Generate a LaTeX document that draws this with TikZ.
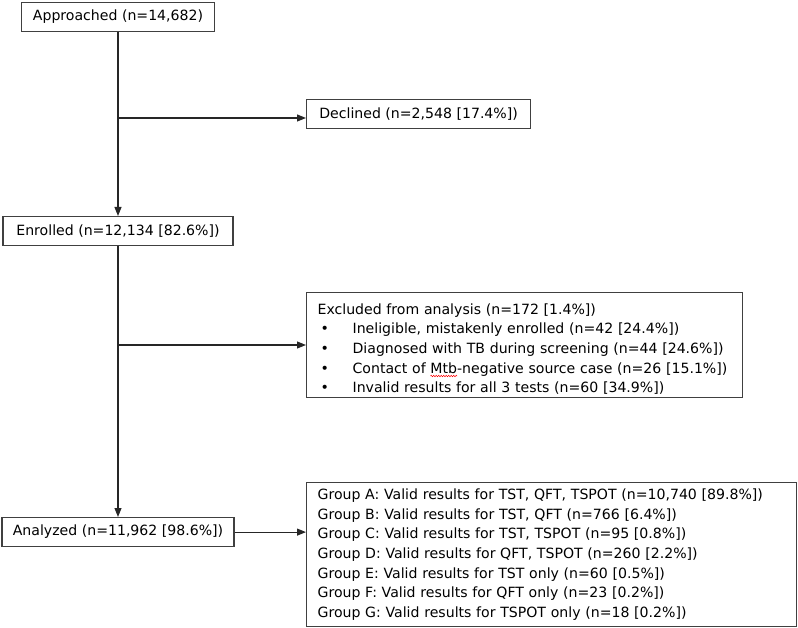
\documentclass[tikz,border=0pt]{standalone}
\usepackage{fontspec}
\setmainfont{DejaVu Sans}
\usetikzlibrary{arrows.meta,decorations.pathmorphing}
\tikzset{
  box/.style={draw=black!75, line width=1.2pt, inner sep=0pt, minimum height=29pt, anchor=north, align=center},
  listbox/.style={draw=black!75, line width=1.2pt, inner xsep=11pt, inner ysep=0pt, anchor=north west, align=left},
  conn/.style={draw=black!85, line width=1.1pt, -{Triangle[length=9pt,width=7pt]}},
  every node/.style={font=\fontsize{14.1}{19.6}\selectfont}
}
\newlength{\wavywd}
\newcommand{\wavyword}[1]{\settowidth{\wavywd}{#1}\rlap{\tikz[overlay,x=1cm,y=1cm]{\draw[red,line width=0.5pt,decorate,decoration={snake,amplitude=0.7pt,segment length=2.5pt}] (0pt,-3pt) -- (\wavywd,-3pt);}}#1}
\newcommand{\bul}{\hspace*{3pt}\makebox[32pt][l]{\textbullet}}
\begin{document}
\begin{tikzpicture}[x=1pt,y=-1pt]
\useasboundingbox (0,0) rectangle (798,628);
\node[box, minimum width=193pt] (app) at (118,2) {Approached (n=14,682)};
\node[box, minimum width=224pt, anchor=north west] (dec) at (306,99) {Declined (n=2,548 [17.4\%])};
\node[box, minimum width=230pt] (enr) at (118,216) {Enrolled (n=12,134 [82.6\%])};
\node[listbox, text width=414pt, minimum height=105pt] (exc) at (306,292) {\rule{0pt}{18.5pt}Excluded from analysis (n=172 [1.4\%])\\
\bul Ineligible, mistakenly enrolled (n=42 [24.4\%])\\
\bul Diagnosed with TB during screening (n=44 [24.6\%])\\
\bul Contact of \wavyword{Mtb}-negative source case (n=26 [15.1\%])\\
\bul Invalid results for all 3 tests (n=60 [34.9\%])};
\node[box, minimum width=232pt] (ana) at (118,517) {Analyzed (n=11,962 [98.6\%])};
\node[listbox, text width=468pt, minimum height=144pt] (grp) at (306,482) {Group A: Valid results for TST, QFT, TSPOT (n=10,740 [89.8\%])\\
Group B: Valid results for TST, QFT (n=766 [6.4\%])\\
Group C: Valid results for TST, TSPOT (n=95 [0.8\%])\\
Group D: Valid results for QFT, TSPOT (n=260 [2.2\%])\\
Group E: Valid results for TST only (n=60 [0.5\%])\\
Group F: Valid results for QFT only (n=23 [0.2\%])\\
Group G: Valid results for TSPOT only (n=18 [0.2\%])};
\coordinate (j1) at (118,118);
\coordinate (j2) at (118,345);
\draw[conn] (app.south) -- (enr.north);
\draw[conn] (j1) -- (j1 -| dec.west);
\draw[conn] (enr.south) -- (ana.north);
\draw[conn] (j2) -- (j2 -| exc.west);
\draw[conn] (ana.east) -- (ana.east -| grp.west);
\end{tikzpicture}
\end{document}
